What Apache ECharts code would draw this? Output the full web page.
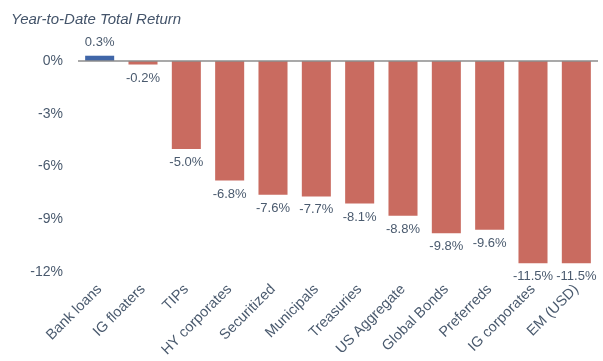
<!DOCTYPE html>
<html>
<head>
<meta charset="utf-8">
<script src="https://cdn.jsdelivr.net/npm/echarts@6/dist/echarts.min.js"></script>
<style>html,body{margin:0;padding:0;background:#fff}#c{width:603px;height:361px}</style>
</head>
<body>
<div id="c"></div>
<script>
const categories = ['Bank loans','IG floaters','TIPs','HY corporates','Securitized','Municipals','Treasuries','US Aggregate','Global Bonds','Preferreds','IG corporates','EM (USD)'];
const values = [0.3,-0.2,-5.0,-6.8,-7.6,-7.7,-8.1,-8.8,-9.8,-9.6,-11.5,-11.5];
const titleText = 'Year-to-Date Total Return';

const chart = echarts.init(document.getElementById('c'), null, {renderer:'canvas'});
chart.setOption({
  animation:false,
  title:{text:titleText,left:6,top:7,textStyle:{fontFamily:'Liberation Sans, Arial',fontStyle:'italic',fontWeight:'normal',fontSize:15,color:'#44546a'}},
  grid:{left:78,right:5,top:8.25,bottom:89,containLabel:false},
  xAxis:{type:'category',data:categories,
    axisLine:{show:false},axisTick:{show:false},
    axisLabel:{rotate:45,interval:0,margin:15,fontFamily:'Liberation Sans, Arial',fontSize:14.5,color:'#4a5a6e'}},
  yAxis:{type:'value',min:-12,max:3,interval:3,
    splitLine:{show:false},axisLine:{show:false},axisTick:{show:false},
    axisLabel:{margin:15,fontFamily:'Liberation Sans, Arial',fontSize:14,color:'#4a5a6e',
      formatter:v=> v>0 ? '' : v+'%'}},
  series:[{type:'bar',data:values.map(v=>({value:v,itemStyle:{color:v>=0?'#4066a8':'#c96b60'}})),
    barWidth:'67%',
    label:{show:true,position:'outside',distance:7,fontFamily:'Liberation Sans, Arial',fontSize:13,color:'#4a5a6e',
      formatter:p=>p.value.toFixed(1)+'%'},
    markLine:{silent:true,symbol:'none',label:{show:false},lineStyle:{color:'#8c8c8c',width:1.5,type:'solid'},data:[{yAxis:0}]}
  }]
});
</script>
</body>
</html>
